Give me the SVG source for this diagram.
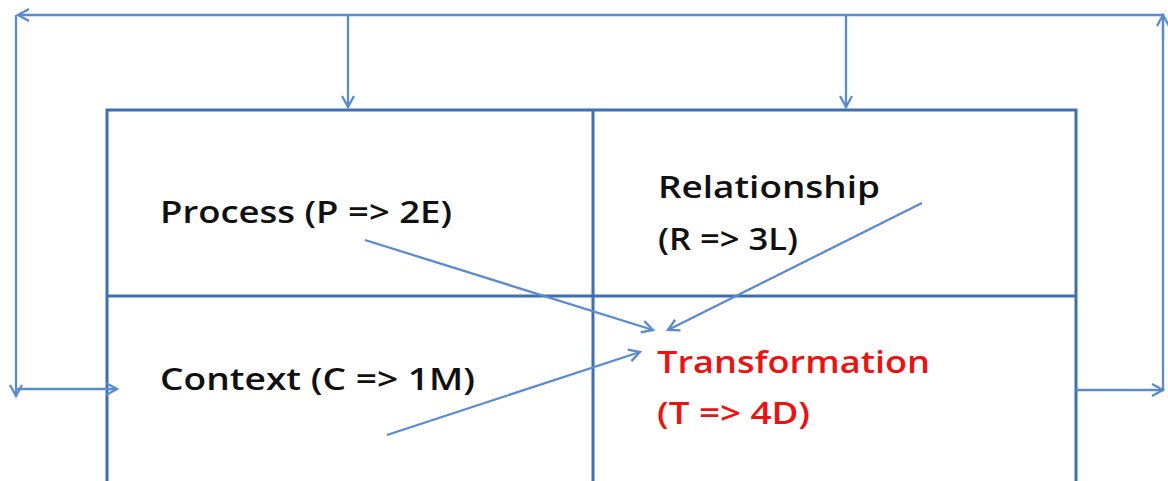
<svg xmlns="http://www.w3.org/2000/svg" width="1168" height="481" viewBox="0 0 1168 481">
<style>
.box{fill:none;stroke:#3F6FB0;stroke-width:3}
.c{fill:none;stroke:#5A8AD0;stroke-width:2.3}
.t{font-family:"Open Sans","Liberation Sans",sans-serif;font-size:31px;font-weight:600;fill:#111}
.r{fill:#EE1111}
</style>
<defs>
<marker id="a" markerWidth="14" markerHeight="14" refX="12" refY="7" orient="auto" markerUnits="userSpaceOnUse">
<path d="M1,1 L12,7 L1,13" fill="none" stroke="#5A8AD0" stroke-width="2.3"/>
</marker>
</defs>
<rect width="1168" height="481" fill="#fff"/>
<g id="grid">
<path class="box" d="M107,483 V110 H1076 V483"/>
<line class="box" x1="593" y1="110" x2="593" y2="483"/>
<line class="box" x1="107" y1="296" x2="1076" y2="296"/>
</g>
<g id="process"><text class="t" x="160" y="223" textLength="292" lengthAdjust="spacingAndGlyphs">Process (P =&gt; 2E)</text></g>
<g id="relationship"><text class="t" x="658" y="198" textLength="222" lengthAdjust="spacingAndGlyphs">Relationship</text><text class="t" x="658" y="250" textLength="140" lengthAdjust="spacingAndGlyphs">(R =&gt; 3L)</text></g>
<g id="context"><text class="t" x="160" y="390" textLength="315" lengthAdjust="spacingAndGlyphs">Context (C =&gt; 1M)</text></g>
<g id="transformation"><text class="t r" x="657" y="373" textLength="273" lengthAdjust="spacingAndGlyphs">Transformation</text><text class="t r" x="657" y="424" textLength="153" lengthAdjust="spacingAndGlyphs">(T =&gt; 4D)</text></g>
<g id="connectors">
<polyline class="c" points="1163,390 1163,15 18,15" marker-end="url(#a)"/>
<line class="c" x1="1076" y1="390" x2="1163" y2="390" marker-end="url(#a)"/>
<line class="c" x1="1163" y1="40" x2="1163" y2="15" marker-end="url(#a)"/>
<line class="c" x1="16" y1="15" x2="16" y2="396" marker-end="url(#a)"/>
<line class="c" x1="16" y1="389" x2="117" y2="389" marker-end="url(#a)"/>
<line class="c" x1="348" y1="15" x2="348" y2="107" marker-end="url(#a)"/>
<line class="c" x1="846" y1="15" x2="846" y2="107" marker-end="url(#a)"/>
<line class="c" x1="365" y1="240" x2="653" y2="330" marker-end="url(#a)"/>
<line class="c" x1="922" y1="203" x2="668" y2="330" marker-end="url(#a)"/>
<line class="c" x1="387" y1="435" x2="640" y2="352" marker-end="url(#a)"/>
</g>
</svg>
